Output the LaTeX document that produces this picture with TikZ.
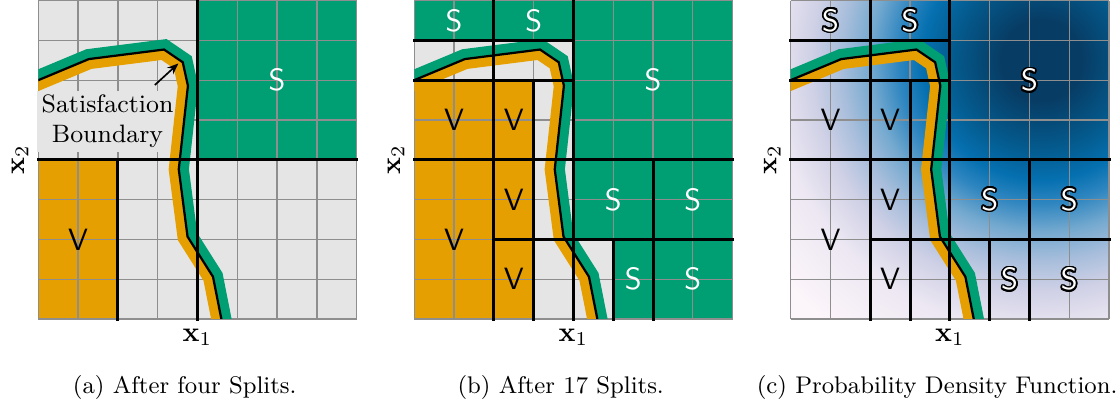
\documentclass[tikz,border=0pt]{standalone}
\usepackage{amsmath}
\usepackage{amssymb}
\usetikzlibrary{calc, arrows.meta}

\definecolor{okgreen}{HTML}{009E73}
\definecolor{okorange}{HTML}{E69F00}
\definecolor{cellbg}{HTML}{E5E5E5}
\definecolor{gridgray}{HTML}{8E8E8E}
\definecolor{pdf0}{HTML}{073C64}
\definecolor{pdf1}{HTML}{045A8D}
\definecolor{pdf2}{HTML}{0570B0}
\definecolor{pdf3}{HTML}{2F86C0}
\definecolor{pdf4}{HTML}{74A9CF}
\definecolor{pdf5}{HTML}{A6BDDB}
\definecolor{pdf6}{HTML}{D0D1E6}
\definecolor{pdf7}{HTML}{ECE7F2}
\definecolor{pdf8}{HTML}{FCF5FA}

\pgfdeclareradialshading{pdfglow}{\pgfpointorigin}{%
  color(0bp)=(pdf0); color(2.5bp)=(pdf0); color(5.5bp)=(pdf1);
  color(7.5bp)=(pdf2); color(9bp)=(pdf3); color(10.75bp)=(pdf4);
  color(12.5bp)=(pdf5); color(14.5bp)=(pdf6); color(17bp)=(pdf7);
  color(21.25bp)=(pdf8); color(50bp)=(pdf8)}

\tikzset{
  gridline/.style={draw=gridgray, line width=0.45pt, step=0.5cm},
  splitline/.style={line width=1.1pt, line cap=rect},
  pointer/.style={-{Stealth[length=4pt, width=3.2pt]}, line width=0.6pt},
  lblS/.style={text=white, font=\fontsize{11}{13}\sffamily},
  lblV/.style={text=black, font=\fontsize{11}{13}\sffamily},
  axislbl/.style={font=\fontsize{10}{12}\selectfont},
  capt/.style={font=\fontsize{8.6}{10}\selectfont},
  boxtext/.style={fill=cellbg, align=center, inner sep=1.5pt,
    font=\fontsize{9}{10.7}\selectfont},
}

% satisfaction boundary, in cell units of one panel
\newcommand{\bndpath}{(-0.5,5.78) -- (0,6.0) -- (1.27,6.53) -- (3.16,6.77)
  -- (3.63,6.45) -- (3.76,5.86) -- (3.53,3.76) -- (3.75,2.07)
  -- (4.39,1.06) -- (4.60,0) -- (4.69,-0.5)}

\newcommand{\bndcurve}{%
  \begin{scope}
    \clip (0,0) rectangle (8,8);
    \begin{scope}
      \clip \bndpath -- (4.69,-1) -- (-1,-1) -- (-1,5.78) -- cycle;
      \draw[line width=7.2pt, okorange] \bndpath;
    \end{scope}
    \begin{scope}
      \clip \bndpath -- (4.69,-1) -- (9,-1) -- (9,9) -- (-1,9) -- (-1,5.78) -- cycle;
      \draw[line width=7.2pt, okgreen] \bndpath;
    \end{scope}
    \draw[line width=0.8pt] \bndpath;
  \end{scope}}

\newcommand{\splitsfine}{%
  \draw[splitline] (0,7) -- (4,7);
  \draw[splitline] (0,6) -- (4,6);
  \draw[splitline] (0,4) -- (8,4);
  \draw[splitline] (2,2) -- (8,2);
  \draw[splitline] (2,0) -- (2,8);
  \draw[splitline] (4,0) -- (4,8);
  \draw[splitline] (3,0) -- (3,6);
  \draw[splitline] (6,0) -- (6,4);
  \draw[splitline] (5,0) -- (5,2);}

% white S with a black rim
\newcommand{\outlS}[2]{%
  \foreach \k in {1,...,16}
    \node[lblS, text=black, shift={({\k*22.5}:0.6pt)}] (#1-\k) at #2 {S};
  \node[lblS] (#1) at #2 {S};}

\begin{document}
\begin{tikzpicture}[x=0.5cm, y=0.5cm]
  \useasboundingbox (-0.962,-2.261) rectangle (27.104,8.015);

  % (a)
  \begin{scope}
    \fill[cellbg] (0,0) rectangle (8,8);
    \fill[okgreen] (4,4) rectangle (8,8);
    \fill[okorange] (0,0) rectangle (2,4);
    \draw[gridline] (0,0) grid (8,8);
    \node[boxtext] (satlbl) at (1.74,4.96) {Satisfaction\\Boundary};
    \bndcurve
    \coordinate (arwtail) at (2.93,5.88);
    \coordinate (arwtip) at (3.52,6.42);
    \draw[pointer] (arwtail) -- (arwtip);
    \draw[splitline] (0,4) -- (8,4);
    \draw[splitline] (4,0) -- (4,8);
    \draw[splitline] (2,0) -- (2,4);
    \node[lblS] (sa1) at (6,6) {S};
    \node[lblV] (va1) at (1,2) {V};
    \node[axislbl] (xa1) at (4,-0.45) {$\mathbf{x}_1$};
    \node[axislbl, rotate=90] (xa2) at (-0.46,4) {$\mathbf{x}_2$};
    \node[capt] (capa) at (3.68,-1.73) {(a) After four Splits.};
  \end{scope}

  % (b)
  \begin{scope}[shift={(9.447,0)}]
    \fill[cellbg] (0,0) rectangle (8,8);
    \fill[okorange] (0,0) rectangle (3,6);
    \fill[okgreen] (0,7) rectangle (4,8);
    \fill[okgreen] (4,2) rectangle (8,8);
    \fill[okgreen] (5,0) rectangle (8,2);
    \draw[gridline] (0,0) grid (8,8);
    \bndcurve
    \splitsfine
    \node[lblS] (sb1) at (1,7.5) {S};
    \node[lblS] (sb2) at (3,7.5) {S};
    \node[lblS] (sb3) at (6,6) {S};
    \node[lblS] (sb4) at (5,3) {S};
    \node[lblS] (sb5) at (7,3) {S};
    \node[lblS] (sb6) at (5.5,1) {S};
    \node[lblS] (sb7) at (7,1) {S};
    \node[lblV] (vb1) at (1,5) {V};
    \node[lblV] (vb2) at (1,2) {V};
    \node[lblV] (vb3) at (2.5,5) {V};
    \node[lblV] (vb4) at (2.5,3) {V};
    \node[lblV] (vb5) at (2.5,1) {V};
    \node[axislbl] (xb1) at (4,-0.45) {$\mathbf{x}_1$};
    \node[axislbl, rotate=90] (xb2) at (-0.46,4) {$\mathbf{x}_2$};
    \node[capt] (capb) at (3.68,-1.73) {(b) After 17 Splits.};
  \end{scope}

  % (c)
  \begin{scope}[shift={(18.905,0)}]
    \fill[pdf8] (0,0) rectangle (8,8);
    \begin{scope}
      \clip (0,0) rectangle (8,8);
      \shade[shading=pdfglow] (6.3,6.5) circle (10);
    \end{scope}
    \draw[gridline] (0,0) grid (8,8);
    \bndcurve
    \splitsfine
    \outlS{sc1}{(1,7.5)}
    \outlS{sc2}{(3,7.5)}
    \outlS{sc3}{(6,6)}
    \outlS{sc4}{(5,3)}
    \outlS{sc5}{(7,3)}
    \outlS{sc6}{(5.5,1)}
    \outlS{sc7}{(7,1)}
    \node[lblV] (vc1) at (1,5) {V};
    \node[lblV] (vc2) at (1,2) {V};
    \node[lblV] (vc3) at (2.5,5) {V};
    \node[lblV] (vc4) at (2.5,3) {V};
    \node[lblV] (vc5) at (2.5,1) {V};
    \node[axislbl] (xc1) at (4,-0.45) {$\mathbf{x}_1$};
    \node[axislbl, rotate=90] (xc2) at (-0.46,4) {$\mathbf{x}_2$};
    \node[capt] (capc) at (3.68,-1.73) {(c) Probability Density Function.};
  \end{scope}
\end{tikzpicture}
\end{document}
